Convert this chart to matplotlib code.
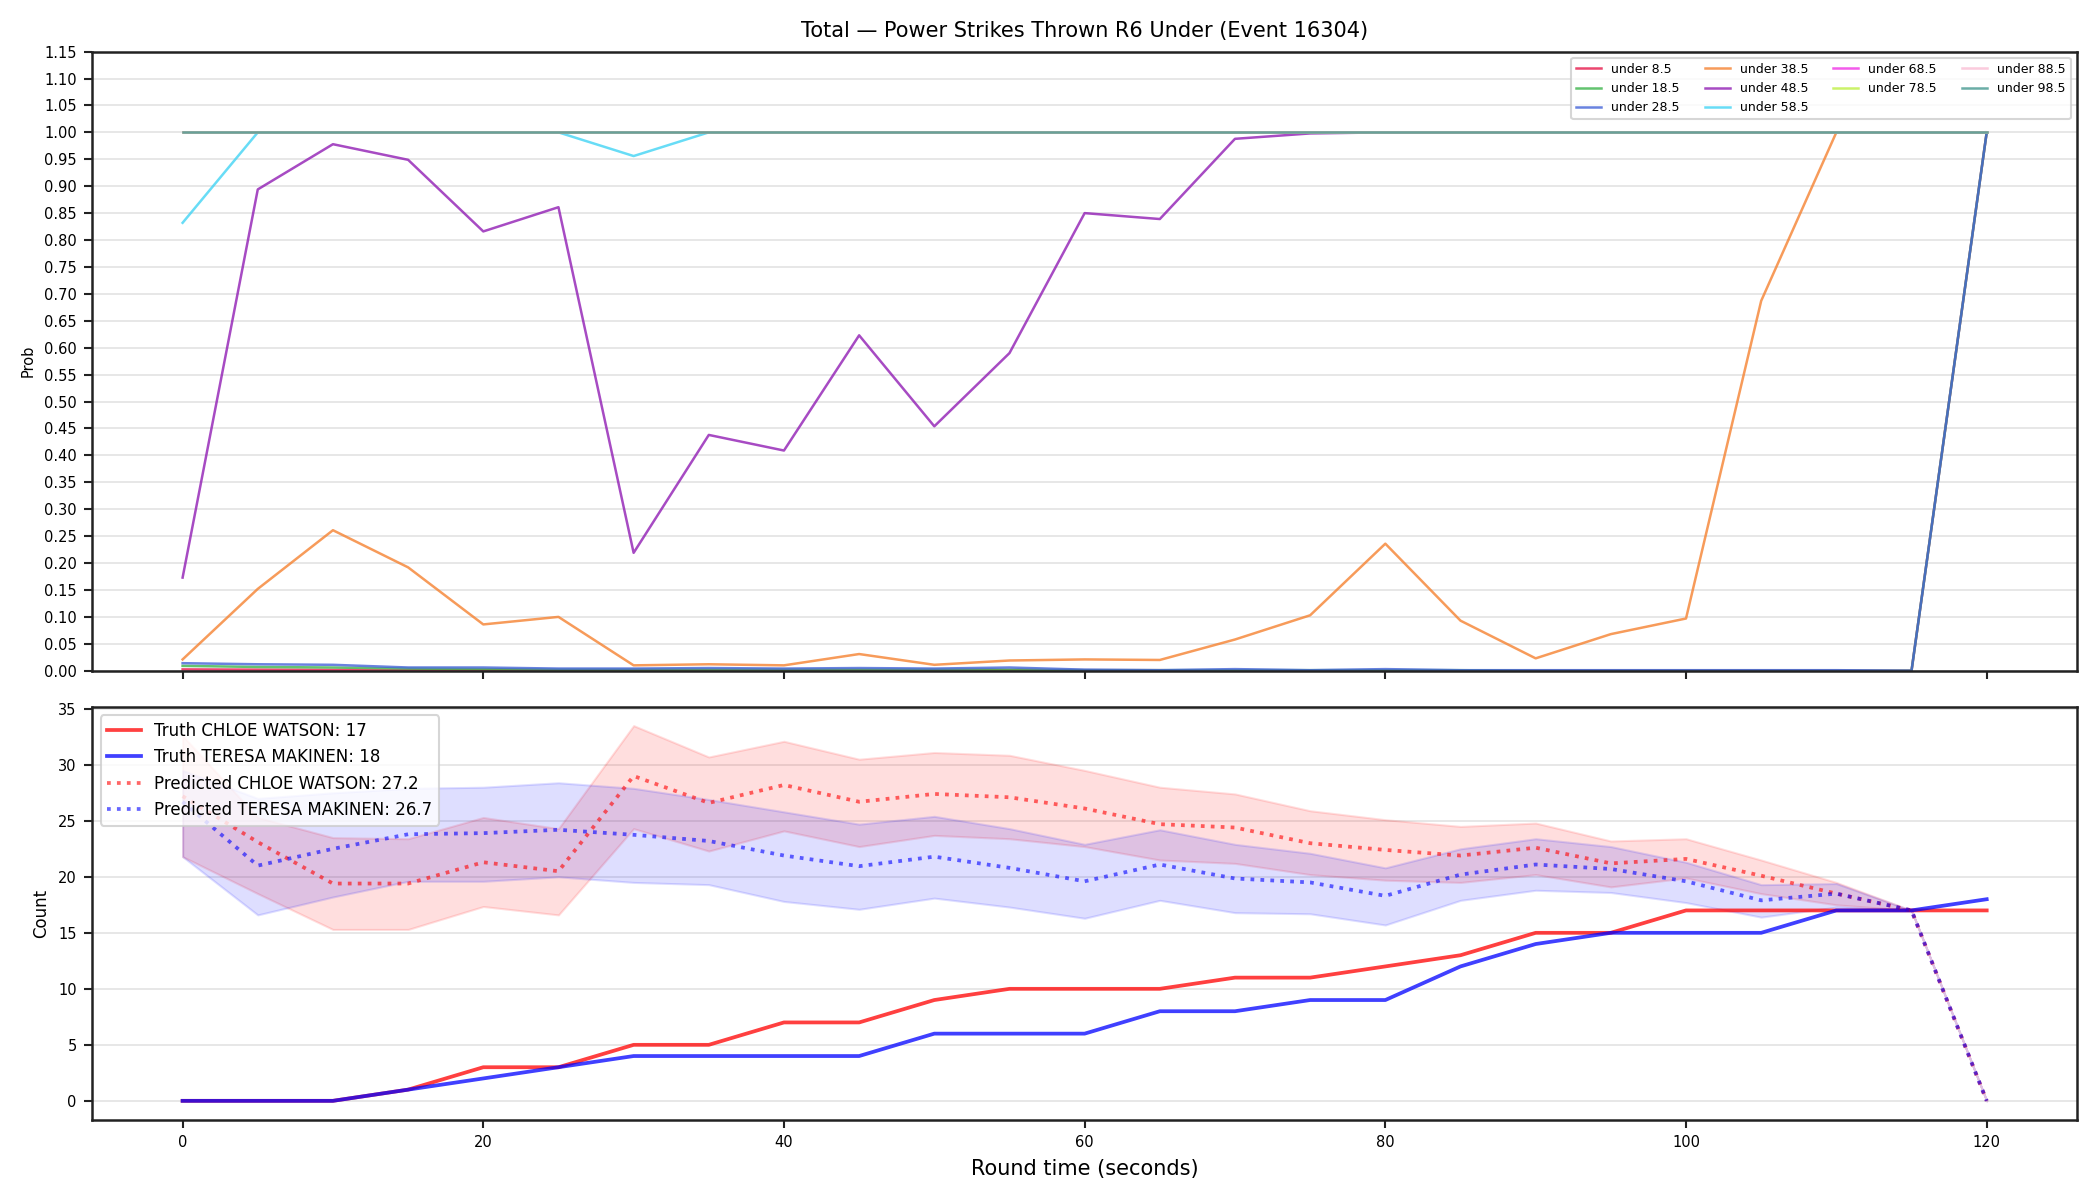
import numpy as np
import matplotlib
matplotlib.use("Agg")
import matplotlib.pyplot as plt

# round time (seconds)
t = np.arange(0, 125, 5)

# top panel: P(total under line)
lines = ["under 8.5", "under 18.5", "under 28.5", "under 38.5", "under 48.5",
         "under 58.5", "under 68.5", "under 78.5", "under 88.5", "under 98.5"]
colors = ["#e6194B", "#3cb44b", "#4363d8", "#f58231", "#911eb4",
          "#42d4f4", "#f032e6", "#bfef45", "#fabed4", "#469990"]

p_085 = [0.0025, 0.002, 0.0015, 0.001, 0.001, 0.001, 0.001, 0.001, 0.001, 0.001,
         0.001, 0.001, 0.001, 0.001, 0.0, 0.0, 0.0, 0.0, 0.0, 0.0,
         0.0, 0.0, 0.0, 0.0, 1.0]
p_185 = [0.009, 0.007, 0.006, 0.004, 0.003, 0.002, 0.002, 0.002, 0.002, 0.002,
         0.002, 0.002, 0.001, 0.001, 0.001, 0.001, 0.001, 0.001, 0.0, 0.0,
         0.0, 0.0, 0.0, 0.0, 1.0]
p_285 = [0.014, 0.012, 0.011, 0.006, 0.006, 0.004, 0.004, 0.005, 0.004, 0.005,
         0.004, 0.006, 0.002, 0.001, 0.003, 0.001, 0.003, 0.001, 0.001, 0.001,
         0.001, 0.001, 0.001, 0.0, 1.0]
p_385 = [0.021, 0.152, 0.261, 0.192, 0.086, 0.100, 0.010, 0.012, 0.010, 0.031,
         0.011, 0.019, 0.021, 0.020, 0.058, 0.103, 0.236, 0.093, 0.023, 0.068,
         0.097, 0.687, 1.0, 1.0, 1.0]
p_485 = [0.173, 0.894, 0.978, 0.949, 0.816, 0.861, 0.219, 0.438, 0.409, 0.623,
         0.454, 0.590, 0.850, 0.839, 0.988, 0.998, 1.0, 1.0, 1.0, 1.0,
         1.0, 1.0, 1.0, 1.0, 1.0]
p_585 = [0.832, 1.0, 1.0, 1.0, 1.0, 1.0, 0.956, 1.0, 1.0, 1.0,
         1.0, 1.0, 1.0, 1.0, 1.0, 1.0, 1.0, 1.0, 1.0, 1.0,
         1.0, 1.0, 1.0, 1.0, 1.0]
p_685 = [1.0] * 25
p_785 = [1.0] * 25
p_885 = [1.0] * 25
p_985 = [1.0] * 25
probs = [p_085, p_185, p_285, p_385, p_485, p_585, p_685, p_785, p_885, p_985]

# bottom panel: counts
truth_chloe = [0, 0, 0, 1, 3, 3, 5, 5, 7, 7, 9, 10, 10, 10, 11, 11, 12, 13,
               15, 15, 17, 17, 17, 17, 17]
truth_teresa = [0, 0, 0, 1, 2, 3, 4, 4, 4, 4, 6, 6, 6, 8, 8, 9, 9, 12,
                14, 15, 15, 15, 17, 17, 18]
pred_chloe = [27.2, 23.1, 19.4, 19.4, 21.3, 20.5, 29.0, 26.6, 28.2, 26.7,
              27.4, 27.1, 26.1, 24.7, 24.4, 23.0, 22.4, 21.9, 22.6, 21.2,
              21.6, 20.1, 18.5, 17.0, 0.0]
pred_teresa = [26.7, 21.0, 22.5, 23.8, 23.9, 24.2, 23.75, 23.2, 21.9, 20.95,
               21.8, 20.8, 19.6, 21.1, 19.85, 19.5, 18.3, 20.2, 21.1, 20.7,
               19.6, 17.9, 18.5, 17.0, 0.0]
chloe_hi = [32.6, 25.3, 23.5, 23.4, 25.3, 24.3, 33.5, 30.7, 32.1, 30.5,
            31.1, 30.85, 29.5, 28.0, 27.4, 25.9, 25.1, 24.5, 24.8, 23.2,
            23.4, 21.5, 19.5, 17.0, 0.0]
chloe_lo = [21.8, 18.5, 15.3, 15.3, 17.35, 16.6, 24.3, 22.3, 24.1, 22.7,
            23.7, 23.4, 22.7, 21.5, 21.2, 20.2, 19.7, 19.5, 20.2, 19.1,
            19.9, 18.5, 17.5, 17.0, 0.0]
teresa_hi = [29.5, 27.0, 27.5, 27.9, 28.0, 28.4, 27.9, 26.9, 25.8, 24.7,
             25.4, 24.3, 22.9, 24.2, 22.9, 22.1, 20.8, 22.5, 23.4, 22.7,
             21.3, 19.3, 19.4, 17.0, 0.0]
teresa_lo = [21.8, 16.6, 18.2, 19.6, 19.6, 20.0, 19.5, 19.3, 17.8, 17.1,
             18.1, 17.3, 16.3, 17.9, 16.8, 16.7, 15.7, 17.9, 18.8, 18.6,
             17.7, 16.4, 17.3, 17.0, 0.0]

fig, (ax1, ax2) = plt.subplots(2, 1, figsize=(14, 8), dpi=150, sharex=True,
                               gridspec_kw={"height_ratios": [3, 2]})
fig.subplots_adjust(left=0.044, right=0.989, top=0.957, bottom=0.067, hspace=0.07)

for name, col, p in zip(lines, colors, probs):
    ax1.plot(t, p, color=col, alpha=0.8, lw=1.2, label=name)
ax1.set_ylim(0, 1.15)
ax1.set_yticks(np.arange(0, 1.151, 0.05))
ax1.set_ylabel("Prob", fontsize=7)
ax1.set_title("Total \u2014 Power Strikes Thrown R6 Under (Event 16304)", fontsize=10, pad=7)
ax1.legend(loc="upper right", ncol=4, fontsize=6)

ax2.fill_between(t, chloe_lo, chloe_hi, color="red", alpha=0.13)
ax2.fill_between(t, teresa_lo, teresa_hi, color="blue", alpha=0.13)
ax2.plot(t, truth_chloe, color="red", alpha=0.75, lw=1.8,
         label=f"Truth CHLOE WATSON: {truth_chloe[-1]}")
ax2.plot(t, truth_teresa, color="blue", alpha=0.75, lw=1.8,
         label=f"Truth TERESA MAKINEN: {truth_teresa[-1]}")
ax2.plot(t, pred_chloe, color="red", alpha=0.6, lw=1.8, ls=":",
         label=f"Predicted CHLOE WATSON: {pred_chloe[0]}")
ax2.plot(t, pred_teresa, color="blue", alpha=0.6, lw=1.8, ls=":",
         label=f"Predicted TERESA MAKINEN: {pred_teresa[0]}")
ax2.set_yticks(np.arange(0, 36, 5))
ax2.set_ylabel("Count", fontsize=8)
ax2.set_xlabel("Round time (seconds)", fontsize=10)
ax2.legend(loc="upper left", fontsize=8)

for ax in (ax1, ax2):
    ax.grid(axis="y", color="#e3e3e3", lw=0.8)
    ax.set_axisbelow(True)
    ax.tick_params(labelsize=7, length=4, width=1, color="#222222")
    for s in ax.spines.values():
        s.set_color("#222222")
        s.set_linewidth(1.2)
ax1.tick_params(axis="x", labelbottom=False)

fig.savefig("out.png", dpi=150)
